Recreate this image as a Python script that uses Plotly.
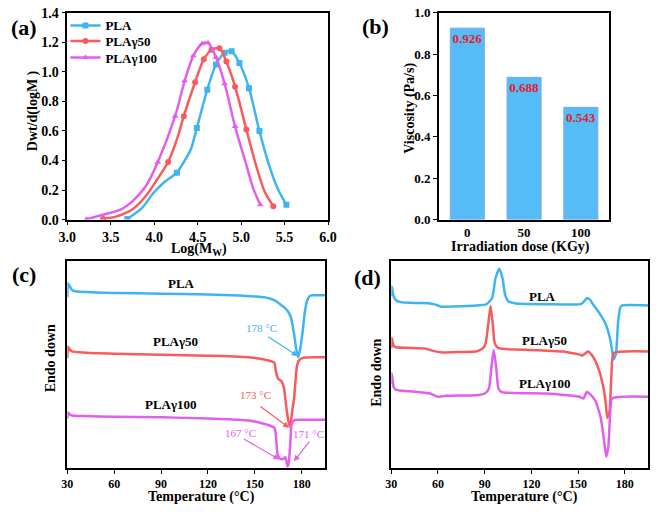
import plotly.graph_objects as go

W, H = 661, 515
FONT = "Liberation Serif"
BLUE, RED, MAG = "#3DB5F2", "#F75B5B", "#E25EF0"

# ---------------- (a) molecular weight distribution ----------------
a_names = ["PLA", "PLA\u03b350", "PLA\u03b3100"]
a_pla_x = [3.69, 3.86, 3.99, 4.12, 4.26, 4.34, 4.42, 4.49, 4.61, 4.71, 4.81, 4.89, 4.98, 5.09, 5.21, 5.31, 5.42, 5.52]
a_pla_y = [0.005, 0.08, 0.18, 0.256, 0.318, 0.39, 0.475, 0.62, 0.88, 1.05, 1.13, 1.14, 1.06, 0.89, 0.60, 0.39, 0.21, 0.10]
a_pla_mk = [0, 4, 7, 8, 9, 10, 11, 12, 13, 14, 17]
a_g50_x = [3.41, 3.56, 3.75, 3.90, 4.04, 4.16, 4.27, 4.34, 4.47, 4.57, 4.66, 4.75, 4.83, 4.93, 5.06, 5.16, 5.27, 5.37]
a_g50_y = [0.005, 0.02, 0.07, 0.158, 0.278, 0.39, 0.56, 0.70, 0.93, 1.085, 1.15, 1.16, 1.07, 0.90, 0.61, 0.39, 0.19, 0.09]
a_g50_mk = [0, 5, 7, 8, 9, 10, 11, 12, 13, 14, 17]
a_g100_x = [3.22, 3.41, 3.62, 3.75, 3.90, 4.04, 4.24, 4.35, 4.45, 4.55, 4.62, 4.71, 4.81, 4.93, 5.05, 5.14, 5.22]
a_g100_y = [0.003, 0.033, 0.07, 0.125, 0.224, 0.388, 0.70, 0.94, 1.11, 1.19, 1.195, 1.10, 0.92, 0.63, 0.39, 0.21, 0.10]
a_g100_mk = [0, 5, 6, 7, 8, 9, 10, 11, 12, 13, 16]

# ---------------- (b) viscosity ----------------
b_dose = ["0", "50", "100"]
b_visc = [0.926, 0.688, 0.543]

# ---------------- (c) DSC first ----------------
c_pla_T = [30, 30.4, 31.5, 33, 36, 45, 60, 90, 120, 140, 150, 156, 160, 163, 166, 169, 171, 173, 175, 176.5, 177.8, 179, 180.5, 182, 183.5, 185, 187, 195]
c_pla_h = [82.6, 89.4, 87.9, 86.1, 85.4, 85.1, 84.7, 84.4, 84.0, 83.5, 83.0, 82.6, 81.9, 81.0, 79.4, 77.6, 76.0, 73.2, 65.4, 57.6, 53.6, 57.6, 65.4, 75.6, 81.0, 83.2, 83.6, 83.6]
c_g50_T = [30, 30.4, 31.5, 33, 40, 60, 90, 120, 140, 150, 158, 162.5, 163.5, 164.8, 167, 168.6, 170, 171.3, 172.3, 173.1, 174, 175.2, 176.9, 178.3, 181, 195]
c_g50_h = [53.3, 58.7, 57.3, 56.5, 55.9, 55.3, 54.8, 54.4, 53.9, 53.3, 52.2, 51.0, 46.7, 43.3, 42.1, 38.9, 30.4, 23.4, 20.2, 22.6, 28.0, 34.3, 49.1, 52.2, 53.4, 53.6]
c_g100_T = [30, 30.4, 31.5, 33, 40, 60, 90, 120, 140, 150, 158, 162.5, 163.5, 164.5, 166, 168, 169.5, 170.3, 171, 171.8, 172.6, 173.5, 175, 178, 195]
c_g100_h = [24.1, 26.9, 26.0, 25.5, 25.2, 24.9, 24.6, 24.0, 23.4, 22.6, 21.0, 19.5, 15.6, 7.0, 4.7, 4.4, 5.3, 3.1, 0.8, 3.1, 10.9, 21.0, 23.1, 23.4, 23.4]
c_peak_text = ["178 \u00b0C", "173 \u00b0C", "167 \u00b0C", "171 \u00b0C"]
c_peak_color = [BLUE, RED, MAG, MAG]
c_peak_head = [(177.5, 54.2), (171.9, 19.6), (165.7, 4.2), (175.0, 3.3)]
c_peak_tail = [(157.6, 64.0), (152.6, 30.4), (142.0, 14.5), (185.6, 13.6)]
c_peak_label = [(154.5, 67.8), (150.1, 35.5), (140.8, 16.8), (184.3, 16.4)]

# ---------------- (d) DSC second ----------------
d_pla_T = [30, 30.3, 31.5, 33, 36, 45, 54, 58, 62, 70, 85, 91, 94.8, 96.9, 99.4, 101.5, 103.1, 105.2, 110, 130, 150.6, 153, 155.8, 158, 159.6, 163.5, 167.7, 170.8, 172.9, 174.4, 175.6, 177.1, 178.5, 195]
d_pla_h = [83.1, 87.8, 83.1, 81.2, 80.3, 79.9, 79.8, 79.2, 78.1, 78.2, 78.7, 79.2, 82.3, 91.7, 96.4, 91.7, 83.9, 80.7, 79.6, 79.3, 79.2, 79.9, 82.3, 81.2, 79.2, 75.2, 69.7, 61.9, 52.5, 55.6, 69.7, 77.6, 78.7, 78.7]
d_g50_T = [30, 30.3, 31.5, 33, 40, 52, 57, 62, 70, 84.4, 89, 90.6, 92.3, 93.75, 95.2, 96.5, 99, 120, 140, 151, 153, 156.3, 159.4, 162.5, 165.6, 167.7, 168.75, 170.2, 171.5, 172.9, 195]
d_g50_h = [58.0, 63.0, 59.2, 58.5, 58.2, 57.8, 56.7, 56.0, 56.1, 56.4, 58.0, 60.3, 69.7, 78.4, 69.7, 60.3, 58.0, 57.2, 56.4, 54.9, 54.5, 56.4, 54.1, 49.4, 41.5, 32.1, 24.3, 27.4, 46.2, 55.6, 56.4]
d_g100_T = [30, 30.3, 31.5, 33, 45, 55, 60, 65, 84.4, 90, 92.7, 94.4, 95.8, 97.3, 98.9, 101, 130, 151, 153.5, 155.6, 158.3, 161.4, 164.6, 166.7, 168.1, 169.4, 170.6, 171.9, 195]
d_g100_h = [40.8, 45.8, 39.2, 37.9, 37.0, 36.1, 34.5, 35.0, 35.3, 36.1, 38.4, 49.4, 57.2, 49.4, 38.4, 36.8, 36.1, 34.5, 33.7, 36.8, 35.3, 32.1, 24.3, 13.3, 5.5, 10.2, 25.9, 33.7, 34.5]

fig = go.Figure()


def mk_colors(n, idx, col):
    return [col if i in idx else "rgba(0,0,0,0)" for i in range(n)]


legend_ids = ["legend", "legend2", "legend3"]
for name, xs, ys, mk, col, sym, lg in [
    (a_names[0], a_pla_x, a_pla_y, a_pla_mk, BLUE, "square", legend_ids[0]),
    (a_names[1], a_g50_x, a_g50_y, a_g50_mk, RED, "circle", legend_ids[1]),
    (a_names[2], a_g100_x, a_g100_y, a_g100_mk, MAG, "triangle-up", legend_ids[2]),
]:
    fig.add_trace(go.Scatter(
        x=xs, y=ys, name=name, mode="lines+markers", xaxis="x", yaxis="y", legend=lg,
        line=dict(color=col, width=2.5, shape="spline", smoothing=0.8),
        marker=dict(symbol=sym, size=6, color=mk_colors(len(xs), mk, col), line=dict(width=0)),
        hoverinfo="skip"))

fig.add_trace(go.Bar(
    x=b_dose, y=b_visc, xaxis="x2", yaxis="y2", width=0.6, showlegend=False,
    marker=dict(color="#55BCF6", line=dict(color="#7AA8F2", width=1)),
    texttemplate="<b>%{y:.3f}</b>", textposition="inside", insidetextanchor="end",
    textangle=0, constraintext="none",
    textfont=dict(family=FONT, size=13, color="#E8192C"), hoverinfo="skip"))

for xs, ys, col in [(c_pla_T, c_pla_h, BLUE), (c_g50_T, c_g50_h, RED), (c_g100_T, c_g100_h, MAG)]:
    fig.add_trace(go.Scatter(x=xs, y=ys, mode="lines", xaxis="x3", yaxis="y3", showlegend=False,
                             line=dict(color=col, width=2.5, shape="spline", smoothing=0.5), hoverinfo="skip"))
for xs, ys, col in [(d_pla_T, d_pla_h, BLUE), (d_g50_T, d_g50_h, RED), (d_g100_T, d_g100_h, MAG)]:
    fig.add_trace(go.Scatter(x=xs, y=ys, mode="lines", xaxis="x4", yaxis="y4", showlegend=False,
                             line=dict(color=col, width=2.5, shape="spline", smoothing=0.5), hoverinfo="skip"))


def dom_x(p0, p1):
    return [p0 / W, p1 / W]


def dom_y(p_top, p_bot):
    return [1 - p_bot / H, 1 - p_top / H]


def ax(**kw):
    base = dict(showline=True, linecolor="black", linewidth=1.6, mirror=True, ticks="outside",
                ticklen=4, tickwidth=1.4, tickcolor="black", showgrid=False, zeroline=False,
                ticklabeloverflow="allow",
                tickfont=dict(family=FONT, size=13, color="black", weight="bold"))
    base.update(kw)
    return base


tf14 = dict(family=FONT, size=14, color="black", weight="bold")
tf12 = dict(family=FONT, size=12, color="black", weight="bold")


def leg(py):
    return dict(x=58 / W, y=1 - py / H, xanchor="left", yanchor="middle", bgcolor="rgba(0,0,0,0)",
                font=dict(family=FONT, size=13, color="black", weight="bold"), itemwidth=30)


fig.update_layout(
    width=W, height=H, margin=dict(l=0, r=0, t=0, b=0),
    paper_bgcolor="white", plot_bgcolor="white",
    font=dict(family=FONT, color="black"),
    xaxis=ax(domain=dom_x(60, 328), range=[3, 6], dtick=0.5, tick0=3, tickformat=".1f", anchor="y", tickfont=tf14),
    yaxis=ax(domain=dom_y(6, 219), range=[0, 1.4], dtick=0.2, tick0=0, tickformat=".1f", anchor="x", tickfont=tf14),
    xaxis2=ax(domain=dom_x(442, 617), range=[-0.5, 2.5], type="category", anchor="y2", ticks=""),
    yaxis2=ax(domain=dom_y(6, 219), range=[0, 1.0], dtick=0.2, tick0=0, tickformat=".1f", anchor="x2"),
    xaxis3=ax(domain=dom_x(60, 325), range=[30, 195], dtick=30, tick0=30, anchor="y3", tickfont=tf12),
    yaxis3=ax(domain=dom_y(262, 475), range=[0, 100], anchor="x3", ticks="", showticklabels=False),
    xaxis4=ax(domain=dom_x(393, 657), range=[30, 195], dtick=30, tick0=30, anchor="y4", tickfont=tf12),
    yaxis4=ax(domain=dom_y(262, 475), range=[0, 100], anchor="x4", ticks="", showticklabels=False),
    legend=leg(19), legend2=leg(35), legend3=leg(52),
)

ann = []


def txt(px, py, s, size=14, color="black", angle=0):
    ann.append(dict(x=px / W, y=1 - py / H, xref="paper", yref="paper", text=s, showarrow=False,
                    xanchor="center", yanchor="middle", textangle=angle,
                    font=dict(family=FONT, size=size, color=color)))


# panel letters
txt(15, 21, "<b>(a)</b>", 22)
txt(377, 20, "<b>(b)</b>", 22)
txt(15, 276, "<b>(c)</b>", 22)
txt(369, 279, "<b>(d)</b>", 22)
# axis titles
txt(25, 107, "<b>Dwt/d(logM )</b>", 14, angle=-90)
txt(195, 250, "<b>Log(M<sub>W</sub>)</b>", 14)
txt(412, 104, "<b>Viscosity (Pa/s)</b>", 14, angle=-90)
txt(526, 247, "<b>Irradiation dose (KGy)</b>", 14)
txt(43, 362, "<b>Endo down</b>", 14, angle=-90)
txt(198, 505, "<b>Temperature (\u00b0C)</b>", 14)
txt(377, 377, "<b>Endo down</b>", 14, angle=-90)
txt(530, 505, "<b>Temperature (\u00b0C)</b>", 14)
# curve labels
txt(177, 285, "<b>PLA</b>", 13)
txt(171, 345, "<b>PLA\u03b350</b>", 13)
txt(167, 409, "<b>PLA\u03b3100</b>", 13)
txt(548, 298, "<b>PLA</b>", 13)
txt(551, 344, "<b>PLA\u03b350</b>", 13)
txt(551, 388, "<b>PLA\u03b3100</b>", 13)

for s, col, hd, tl, lb in zip(c_peak_text, c_peak_color, c_peak_head, c_peak_tail, c_peak_label):
    ann.append(dict(x=hd[0], y=hd[1], ax=tl[0], ay=tl[1], xref="x3", yref="y3", axref="x3", ayref="y3",
                    text="", showarrow=True, arrowhead=2, arrowsize=1, arrowwidth=1.2, arrowcolor=col))
    ann.append(dict(x=lb[0], y=lb[1], xref="x3", yref="y3", text=s, showarrow=False,
                    xanchor="center", yanchor="middle", font=dict(family=FONT, size=11, color=col)))

fig.update_layout(annotations=ann)
fig.write_html("out.html")
